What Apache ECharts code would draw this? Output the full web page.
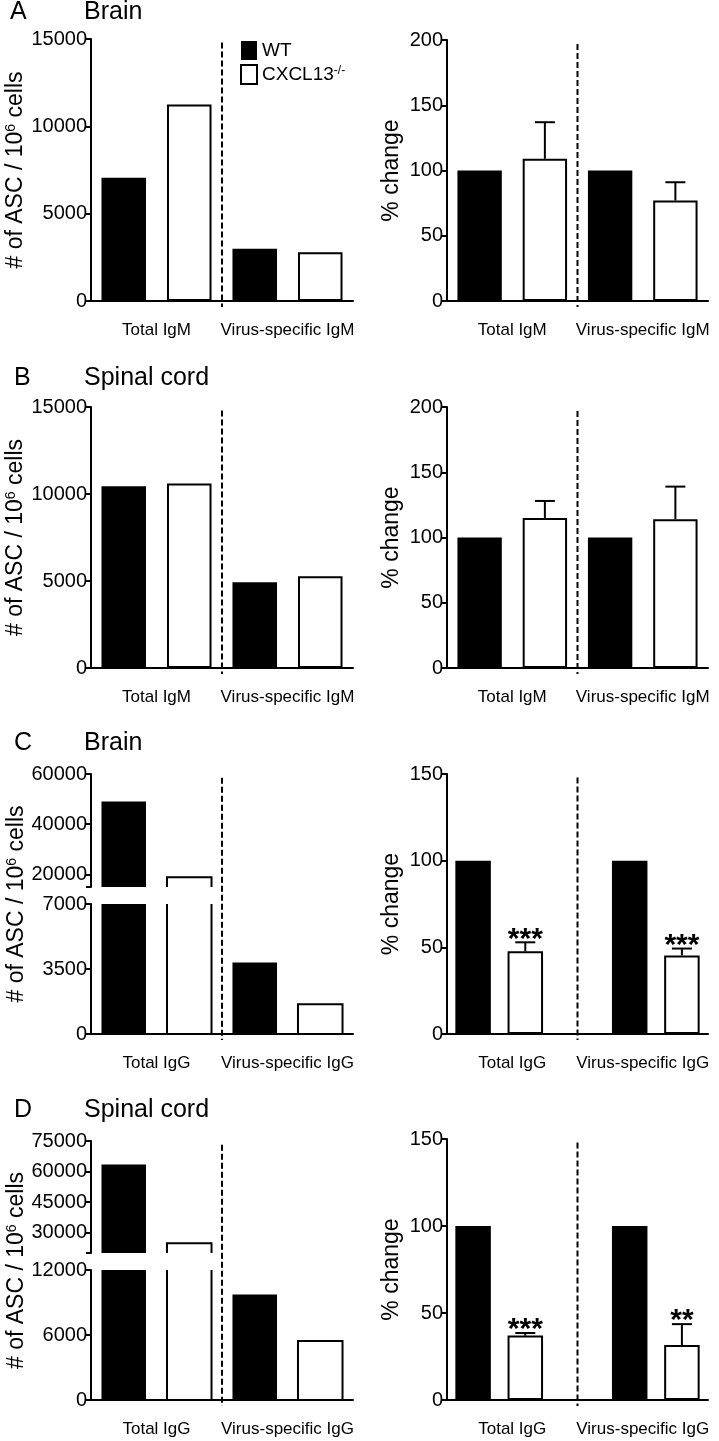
<!DOCTYPE html>
<html>
<head>
<meta charset="utf-8">
<title>ASC in brain and spinal cord</title>
<script src="https://cdn.jsdelivr.net/npm/echarts@6/dist/echarts.min.js"></script>
<style>
  html, body { margin: 0; padding: 0; background: #fff; }
  #main { width: 719px; height: 1441px; }
</style>
</head>
<body>
<div id="main"></div>
<script>
// ---- data ----
var genotypes = ['WT', 'CXCL13-/-'];
var groupsIgM = ['Total IgM', 'Virus-specific IgM'];
var groupsIgG = ['Total IgG', 'Virus-specific IgG'];

// A  brain, IgM
var brainIgM_WT = [7050, 2990];
var brainIgM_KO = [11250, 2790];
var brainIgMPct_WT = [100, 100];
var brainIgMPct_KO = [109, 77];
var brainIgMPct_KOerr = [28, 14];

// B  spinal cord, IgM
var spinalIgM_WT = [10450, 4930];
var spinalIgM_KO = [10600, 5270];
var spinalIgMPct_WT = [100, 100];
var spinalIgMPct_KO = [115, 114];
var spinalIgMPct_KOerr = [13, 25];

// C  brain, IgG
var brainIgG_WT = [49000, 3850];
var brainIgG_KO = [18900, 1600];
var brainIgGPct_WT = [100, 100];
var brainIgGPct_KO = [47.7, 45.3];
var brainIgGPct_KOerr = [5.2, 4];
var brainIgGPct_sig = ['***', '***'];

// D  spinal cord, IgG
var spinalIgG_WT = [63500, 9750];
var spinalIgG_KO = [24800, 5450];
var spinalIgGPct_WT = [100, 100];
var spinalIgGPct_KO = [37, 31.6];
var spinalIgGPct_KOerr = [1.5, 12];
var spinalIgGPct_sig = ['***', '**'];

// tick labels
var ticksIgM = [0, 5000, 10000, 15000];
var ticksPct200 = [0, 50, 100, 150, 200];
var ticksPct150 = [0, 50, 100, 150];
var ticksBrainIgGLow = [0, 3500, 7000];
var ticksBrainIgGHigh = [20000, 40000, 60000];
var ticksSpinalIgGLow = [0, 6000, 12000];
var ticksSpinalIgGHigh = [30000, 45000, 60000, 75000];
var breakBrainIgG = 15000;   // bottom of the upper (broken) segment
var breakSpinalIgG = 20000;

// ---- helpers ----
var FONT = '"Liberation Sans", Arial, Helvetica, sans-serif';
var grids = [], xAxes = [], yAxes = [], series = [];
var ASC_NAME = '# of ASC / 10{sup|6} cells';
var nameStyle = {
  fontSize: 23, color: '#000', fontFamily: FONT,
  rich: { sup: { fontSize: 14, color: '#000', fontFamily: FONT, verticalAlign: 'top' } }
};

function slotData(values, slots, n) {
  var d = [];
  for (var i = 0; i < n; i++) d.push('-');
  values.forEach(function (v, i) { d[slots[i]] = v; });
  return d;
}

function slotAxis(g, n, showLine) {
  var names = [];
  for (var i = 0; i < n; i++) names.push('s' + i);
  return xAxes.push({
    gridIndex: g, type: 'category', data: names,
    axisLine: { show: showLine, lineStyle: { color: '#000', width: 2 } },
    axisTick: { show: false }, axisLabel: { show: false }, splitLine: { show: false }
  }) - 1;
}

function groupAxis(g, groups) {
  return xAxes.push({
    gridIndex: g, type: 'category', position: 'bottom', data: groups,
    axisLine: { show: false }, axisTick: { show: false }, splitLine: { show: false },
    axisLabel: { margin: 21, fontSize: 17, color: '#000', fontFamily: FONT, interval: 0 }
  }) - 1;
}

function valueXAxis(g, n) {
  return xAxes.push({ gridIndex: g, type: 'value', min: 0, max: n, show: false }) - 1;
}

function valueYAxis(g, labelTicks, allTicks, name, gap) {
  return yAxes.push({
    gridIndex: g, type: 'value',
    min: allTicks[0], max: labelTicks[labelTicks.length - 1],
    axisLine: { show: true, lineStyle: { color: '#000', width: 2 } },
    axisTick: { show: true, length: 5, lineStyle: { color: '#000', width: 2 }, customValues: allTicks },
    axisLabel: {
      fontSize: 20, color: '#000', fontFamily: FONT, margin: 4, customValues: labelTicks,
      formatter: function (v) { return String(v); }
    },
    splitLine: { show: false },
    name: name || '', nameLocation: 'middle', nameGap: gap || 0, nameTextStyle: nameStyle
  }) - 1;
}

var WT_STYLE = { color: '#000' };
var KO_STYLE = { color: '#fff', borderColor: '#000', borderWidth: 2 };

function barSeries(name, xi, yi, data, style) {
  return {
    type: 'bar', name: name, xAxisIndex: xi, yAxisIndex: yi, data: data,
    barWidth: '68%', barGap: '-100%', itemStyle: style, z: 2
  };
}

function errRender(sig) {
  return function (params, api) {
    var x = api.value(0), v = api.value(1), e = api.value(2);
    var p0 = api.coord([x, v]), p1 = api.coord([x, v + e]);
    var st = { stroke: '#000', lineWidth: 2 };
    var ch = [
      { type: 'line', shape: { x1: p0[0], y1: p0[1], x2: p1[0], y2: p1[1] }, style: st },
      { type: 'line', shape: { x1: p1[0] - 10, y1: p1[1], x2: p1[0] + 10, y2: p1[1] }, style: st }
    ];
    if (sig && sig[params.dataIndex]) {
      ch.push({
        type: 'text', x: p1[0], y: p1[1] - 3,
        style: { text: sig[params.dataIndex], fill: '#000', font: 'bold 30px ' + FONT, align: 'center', verticalAlign: 'middle' }
      });
    }
    return { type: 'group', children: ch };
  };
}

function errSeries(xi, yi, slots, vals, errs, sig) {
  var data = slots.map(function (s, i) { return [s, vals[i], errs[i]]; });
  return {
    type: 'custom', xAxisIndex: xi, yAxisIndex: yi, data: data,
    encode: { x: 0, y: 1 }, renderItem: errRender(sig), z: 3, silent: true
  };
}

// bars on a broken axis: cut at the segment edges, white bars stay open there
function brokenBarRender(filled) {
  return function (params, api) {
    var cs = params.coordSys;
    var x = api.value(0), v = api.value(1);
    var w = api.size([1, 0])[0] * 0.68;
    var top = api.coord([x, v]), base = api.coord([x, 0]);
    var yTop = Math.max(top[1], cs.y), yBot = Math.min(base[1], cs.y + cs.height);
    if (yTop >= yBot) return null;
    var l = top[0] - w / 2, r = top[0] + w / 2;
    if (filled) {
      return { type: 'rect', shape: { x: l, y: yTop, width: w, height: yBot - yTop }, style: { fill: '#000' } };
    }
    var st = { stroke: '#000', lineWidth: 2, fill: null };
    if (top[1] >= cs.y) {
      return { type: 'polyline', shape: { points: [[l, yBot], [l, yTop], [r, yTop], [r, yBot]] }, style: st };
    }
    return {
      type: 'group', children: [
        { type: 'line', shape: { x1: l, y1: yBot, x2: l, y2: yTop }, style: st },
        { type: 'line', shape: { x1: r, y1: yBot, x2: r, y2: yTop }, style: st }
      ]
    };
  };
}

function brokenBarSeries(name, xi, yi, slots, vals, filled) {
  return {
    type: 'custom', name: name, xAxisIndex: xi, yAxisIndex: yi,
    data: slots.map(function (s, i) { return [s, vals[i]]; }),
    encode: { x: 0, y: 1 }, renderItem: brokenBarRender(filled), z: 2,
    itemStyle: filled ? WT_STYLE : KO_STYLE
  };
}

function dividerSeries(xi, yi, span, x) {
  return {
    type: 'line', xAxisIndex: xi, yAxisIndex: yi, data: [[x, span[0]], [x, span[1]]],
    symbol: 'none', clip: false, silent: true, z: 1,
    lineStyle: { color: '#000', width: 2, type: [6, 3] }
  };
}

function addPanel(p) {
  var g = grids.push({ left: p.left, top: p.top, width: p.width, height: p.height }) - 1;
  var xs = slotAxis(g, p.n, true);
  groupAxis(g, p.groups);
  var xv = valueXAxis(g, p.n);
  var y = valueYAxis(g, p.ticks, p.ticks, p.name, p.nameGap);
  series.push(barSeries(genotypes[0], xs, y, slotData(p.wt, p.wtSlots, p.n), WT_STYLE));
  series.push(barSeries(genotypes[1], xs, y, slotData(p.ko, p.koSlots, p.n), KO_STYLE));
  if (p.err) series.push(errSeries(xs, y, p.koSlots, p.ko, p.err, p.sig));
  series.push(dividerSeries(xv, y, p.divider, (p.koSlots[0] + p.wtSlots[1] + 1) / 2));
}

function addBrokenPanel(p) {
  var gu = grids.push({ left: p.left, top: p.upper.top, width: p.width, height: p.upper.height }) - 1;
  var xu = slotAxis(gu, p.n, false);
  var yu = valueYAxis(gu, p.upper.ticks, [p.upper.min].concat(p.upper.ticks), '', 0);

  var gl = grids.push({ left: p.left, top: p.lower.top, width: p.width, height: p.lower.height }) - 1;
  var xl = slotAxis(gl, p.n, true);
  groupAxis(gl, p.groups);
  var yl = valueYAxis(gl, p.lower.ticks, p.lower.ticks, '', 0);

  // whole-height grid: axis title and the dashed divider
  var spanH = p.lower.top + p.lower.height - p.upper.top;
  var gs = grids.push({ left: p.left, top: p.upper.top, width: p.width, height: spanH }) - 1;
  var xsv = valueXAxis(gs, p.n);
  var ys = yAxes.push({
    gridIndex: gs, type: 'value', min: 0, max: 100,
    axisLine: { show: false }, axisTick: { show: false }, axisLabel: { show: false }, splitLine: { show: false },
    name: p.name, nameLocation: 'middle', nameGap: p.nameGap, nameTextStyle: nameStyle
  }) - 1;

  [[xu, yu], [xl, yl]].forEach(function (a) {
    series.push(brokenBarSeries(genotypes[0], a[0], a[1], p.wtSlots, p.wt, true));
    series.push(brokenBarSeries(genotypes[1], a[0], a[1], p.koSlots, p.ko, false));
  });
  series.push(dividerSeries(xsv, ys, p.divider, (p.koSlots[0] + p.wtSlots[1] + 1) / 2));
}

// ---- panels ----
var LEFT_X = 91, LEFT_W = 262, RIGHT_X = 447, RIGHT_W = 261;

addPanel({ left: LEFT_X, top: 39, width: LEFT_W, height: 262, n: 4, wtSlots: [0, 2], koSlots: [1, 3],
  wt: brainIgM_WT, ko: brainIgM_KO, groups: groupsIgM, ticks: ticksIgM,
  name: ASC_NAME, nameGap: 63, divider: [14800, -340] });
addPanel({ left: RIGHT_X, top: 40, width: RIGHT_W, height: 261, n: 4, wtSlots: [0, 2], koSlots: [1, 3],
  wt: brainIgMPct_WT, ko: brainIgMPct_KO, err: brainIgMPct_KOerr, groups: groupsIgM, ticks: ticksPct200,
  name: '% change', nameGap: 44, divider: [197, -4.6] });

addPanel({ left: LEFT_X, top: 407, width: LEFT_W, height: 261, n: 4, wtSlots: [0, 2], koSlots: [1, 3],
  wt: spinalIgM_WT, ko: spinalIgM_KO, groups: groupsIgM, ticks: ticksIgM,
  name: ASC_NAME, nameGap: 63, divider: [14800, -340] });
addPanel({ left: RIGHT_X, top: 407, width: RIGHT_W, height: 261, n: 4, wtSlots: [0, 2], koSlots: [1, 3],
  wt: spinalIgMPct_WT, ko: spinalIgMPct_KO, err: spinalIgMPct_KOerr, groups: groupsIgM, ticks: ticksPct200,
  name: '% change', nameGap: 44, divider: [197, -4.6] });

addBrokenPanel({ left: LEFT_X, width: LEFT_W, n: 4, wtSlots: [0, 2], koSlots: [1, 3],
  upper: { top: 774, height: 113, min: breakBrainIgG, ticks: ticksBrainIgGHigh },
  lower: { top: 904, height: 130, ticks: ticksBrainIgGLow },
  wt: brainIgG_WT, ko: brainIgG_KO, groups: groupsIgG,
  name: ASC_NAME, nameGap: 63, divider: [98.6, -2.3] });
addPanel({ left: RIGHT_X, top: 774, width: RIGHT_W, height: 260, n: 5, wtSlots: [0, 3], koSlots: [1, 4],
  wt: brainIgGPct_WT, ko: brainIgGPct_KO, err: brainIgGPct_KOerr, sig: brainIgGPct_sig,
  groups: groupsIgG, ticks: ticksPct150, name: '% change', nameGap: 44, divider: [148, -3.5] });

addBrokenPanel({ left: LEFT_X, width: LEFT_W, n: 4, wtSlots: [0, 2], koSlots: [1, 3],
  upper: { top: 1141, height: 112, min: breakSpinalIgG, ticks: ticksSpinalIgGHigh },
  lower: { top: 1270, height: 130, ticks: ticksSpinalIgGLow },
  wt: spinalIgG_WT, ko: spinalIgG_KO, groups: groupsIgG,
  name: ASC_NAME, nameGap: 63, divider: [98.6, -2.3] });
addPanel({ left: RIGHT_X, top: 1139, width: RIGHT_W, height: 261, n: 5, wtSlots: [0, 3], koSlots: [1, 4],
  wt: spinalIgGPct_WT, ko: spinalIgGPct_KO, err: spinalIgGPct_KOerr, sig: spinalIgGPct_sig,
  groups: groupsIgG, ticks: ticksPct150, name: '% change', nameGap: 44, divider: [148, -3.5] });

// ---- panel titles ----
var panelLetters = ['A', 'B', 'C', 'D'];
var panelTitles = ['Brain', 'Spinal cord', 'Brain', 'Spinal cord'];
var titleTops = [0, 366, 731, 1097.5];
var titles = [];
panelLetters.forEach(function (l, i) {
  var ts = { fontSize: 25, fontWeight: 'normal', color: '#000', fontFamily: FONT };
  titles.push({ text: l, left: i === 0 ? 10 : 14, top: titleTops[i], padding: 0, textStyle: ts });
  titles.push({ text: panelTitles[i], left: 84, top: titleTops[i], padding: 0, textStyle: ts });
});

var chart = echarts.init(document.getElementById('main'));
chart.setOption({
  animation: false,
  backgroundColor: '#fff',
  textStyle: { fontFamily: FONT, color: '#000' },
  title: titles,
  legend: {
    data: genotypes, left: 240, top: 41, orient: 'vertical', padding: 0,
    itemWidth: 16, itemHeight: 19, itemGap: 4, icon: 'rect', selectedMode: false,
    formatter: function (n) { return n === 'CXCL13-/-' ? 'CXCL13{sup|-/-}' : n; },
    textStyle: {
      fontSize: 19, color: '#000', fontFamily: FONT,
      rich: { sup: { fontSize: 12, color: '#000', fontFamily: FONT, verticalAlign: 'top' } }
    }
  },
  grid: grids,
  xAxis: xAxes,
  yAxis: yAxes,
  series: series
});
</script>
</body>
</html>
